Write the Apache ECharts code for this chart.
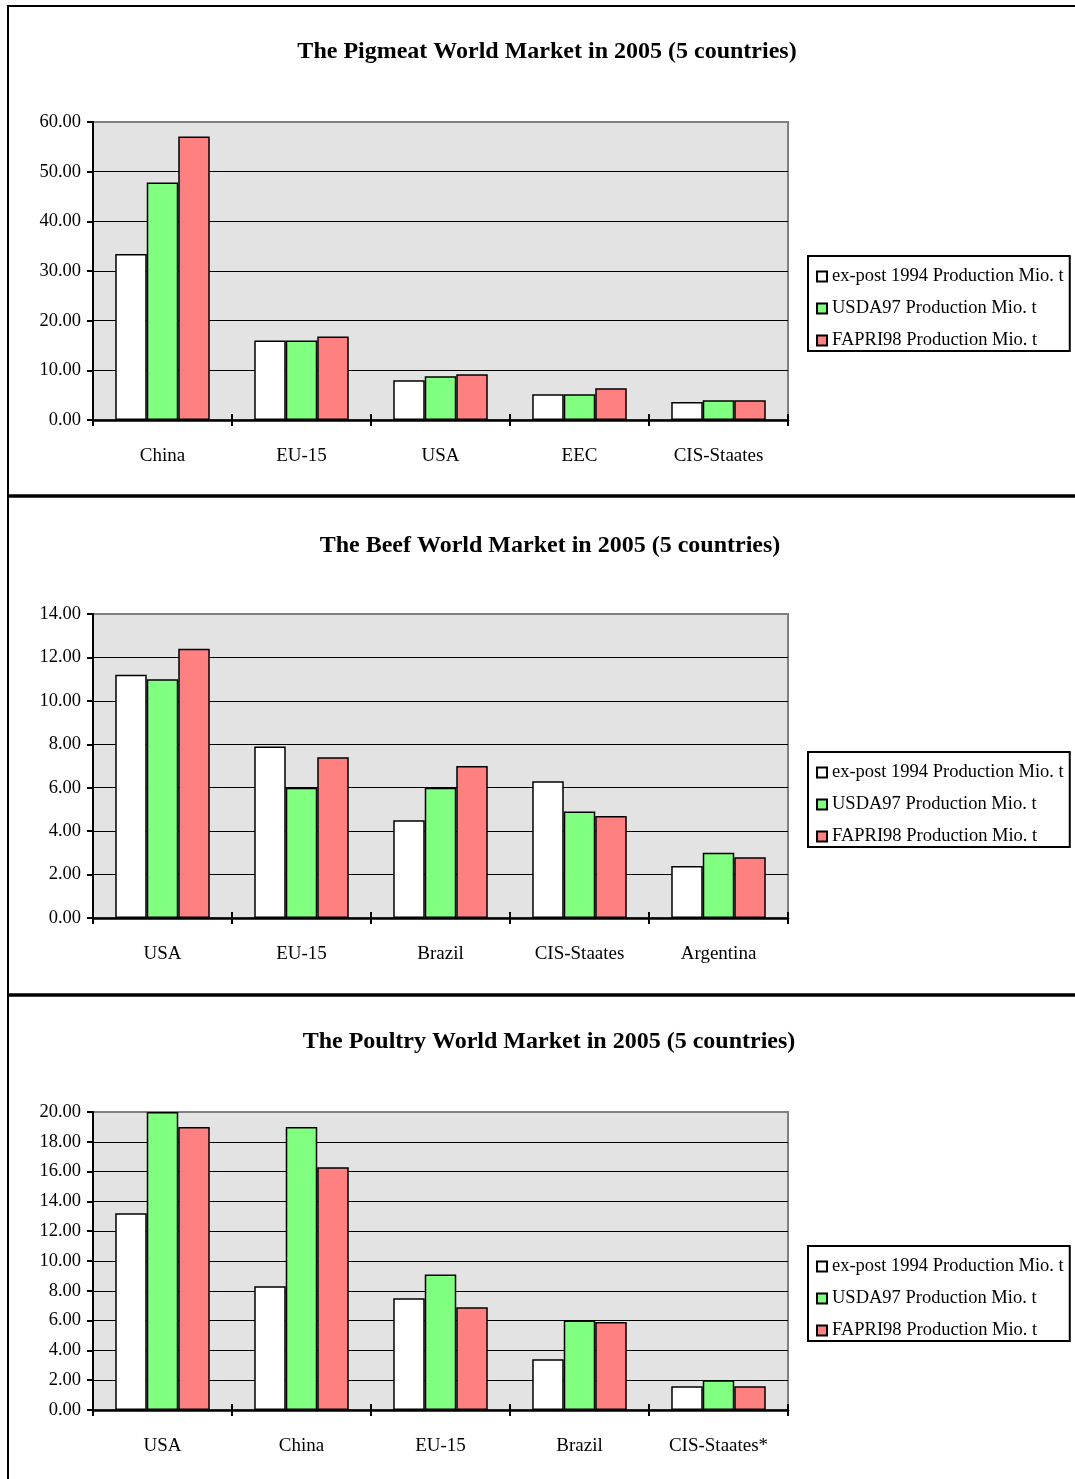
<!DOCTYPE html>
<html>
<head>
<meta charset="utf-8">
<title>World Markets in 2005</title>
<script src="https://cdn.jsdelivr.net/npm/echarts@6/dist/echarts.min.js"></script>
<style>
  html, body { margin: 0; padding: 0; background: #ffffff; }
  #chart { width: 1075px; height: 1479px; }
</style>
</head>
<body>
<div id="chart"></div>
<script>
// Production in million tonnes, three sources per market
const seriesNames = ['ex-post 1994 Production Mio. t', 'USDA97 Production Mio. t', 'FAPRI98 Production Mio. t'];

const pigCategories = ['China', 'EU-15', 'USA', 'EEC', 'CIS-Staates'];
const pigExpost = [33.4, 16.0, 8.0, 5.2, 3.6];
const pigUsda = [47.8, 16.0, 8.8, 5.2, 4.0];
const pigFapri = [57.1, 16.8, 9.2, 6.4, 4.0];

const beefCategories = ['USA', 'EU-15', 'Brazil', 'CIS-Staates', 'Argentina'];
const beefExpost = [11.2, 7.9, 4.5, 6.3, 2.4];
const beefUsda = [11.0, 6.0, 6.0, 4.9, 3.0];
const beefFapri = [12.4, 7.4, 7.0, 4.7, 2.8];

const poultryCategories = ['USA', 'China', 'EU-15', 'Brazil', 'CIS-Staates*'];
const poultryExpost = [13.2, 8.3, 7.5, 3.4, 1.6];
const poultryUsda = [20.0, 19.0, 9.1, 6.0, 2.0];
const poultryFapri = [19.0, 16.3, 6.9, 5.9, 1.6];

const panels = [
  { title: 'The Pigmeat World Market in 2005 (5 countries)', cats: pigCategories,
    values: [pigExpost, pigUsda, pigFapri], max: 60, interval: 10,
    titleX: 547, titleY: 40, gridTop: 122, gridHeight: 298, legendTop: 256 },
  { title: 'The Beef World Market in 2005 (5 countries)', cats: beefCategories,
    values: [beefExpost, beefUsda, beefFapri], max: 14, interval: 2,
    titleX: 550, titleY: 534, gridTop: 614, gridHeight: 304, legendTop: 752 },
  { title: 'The Poultry World Market in 2005 (5 countries)', cats: poultryCategories,
    values: [poultryExpost, poultryUsda, poultryFapri], max: 20, interval: 2,
    titleX: 549, titleY: 1030, gridTop: 1112, gridHeight: 298, legendTop: 1246 }
];

const fillColors = ['#ffffff', '#80ff80', '#ff8080'];
const FONT = '"Liberation Serif", "Times New Roman", serif';

const option = {
  animation: false,
  backgroundColor: '#ffffff',
  textStyle: { fontFamily: FONT, color: '#000' },
  title: [], grid: [], xAxis: [], yAxis: [], legend: [], series: [],
  graphic: [
    { type: 'line', shape: { x1: 8, y1: 6, x2: 1075, y2: 6 }, style: { stroke: '#000', lineWidth: 2 } },
    { type: 'line', shape: { x1: 8, y1: 5, x2: 8, y2: 1479 }, style: { stroke: '#000', lineWidth: 2 } },
    { type: 'line', shape: { x1: 8, y1: 496, x2: 1075, y2: 496 }, style: { stroke: '#000', lineWidth: 3.5 } },
    { type: 'line', shape: { x1: 8, y1: 995, x2: 1075, y2: 995 }, style: { stroke: '#000', lineWidth: 3.5 } }
  ]
};

panels.forEach((p, i) => {
  option.title.push({
    text: p.title, left: p.titleX, top: p.titleY, textAlign: 'center', padding: 0,
    textStyle: { fontFamily: FONT, fontWeight: 'bold', fontSize: 24, color: '#000' }
  });
  option.grid.push({
    left: 93, top: p.gridTop, width: 695, height: p.gridHeight,
    show: true, backgroundColor: '#e3e3e3', borderColor: '#808080', borderWidth: 2
  });
  // category axis with labels and outward ticks
  option.xAxis.push({
    type: 'category', gridIndex: i, data: p.cats, position: 'bottom',
    axisLine: { lineStyle: { color: '#000', width: 2.5 } },
    axisTick: { show: true, length: 6, lineStyle: { color: '#000', width: 2 } },
    axisLabel: { fontFamily: FONT, fontSize: 19, color: '#000', margin: 27 },
    splitLine: { show: false }
  });
  // companion axis that draws the inner half of each boundary tick
  option.xAxis.push({
    type: 'category', gridIndex: i, data: p.cats, position: 'top', offset: -p.gridHeight,
    axisLine: { show: false },
    axisTick: { show: true, length: 6, lineStyle: { color: '#000', width: 2 } },
    axisLabel: { show: false },
    splitLine: { show: false }
  });
  option.yAxis.push({
    type: 'value', gridIndex: i, min: 0, max: p.max, interval: p.interval,
    axisLine: { show: true, lineStyle: { color: '#000', width: 2 } },
    axisTick: { show: true, length: 6, lineStyle: { color: '#000', width: 2 } },
    axisLabel: { fontFamily: FONT, fontSize: 18.5, color: '#000', margin: 12,
      formatter: v => v.toFixed(2) },
    splitLine: { show: true, showMaxLine: false, lineStyle: { color: '#000', width: 1.2 } }
  });
  option.legend.push({
    data: seriesNames, orient: 'vertical', left: 808, top: p.legendTop,
    itemWidth: 10, itemHeight: 10, itemGap: 13, icon: 'rect',
    padding: [11, 6, 1, 8], borderColor: '#000', borderWidth: 2, backgroundColor: '#fff',
    selectedMode: false,
    textStyle: { fontFamily: FONT, fontSize: 18.5, color: '#000', lineHeight: 18, padding: [0, 0, 0, 0] }
  });
  p.values.forEach((vals, k) => {
    option.series.push({
      type: 'bar', name: seriesNames[k], xAxisIndex: i * 2, yAxisIndex: i, data: vals,
      barGap: '0%', barCategoryGap: '32%',
      itemStyle: { color: fillColors[k], borderColor: '#000', borderWidth: 1.5 }
    });
  });
});

const chart = echarts.init(document.getElementById('chart'), null, { renderer: 'canvas' });
chart.setOption(option);
</script>
</body>
</html>
